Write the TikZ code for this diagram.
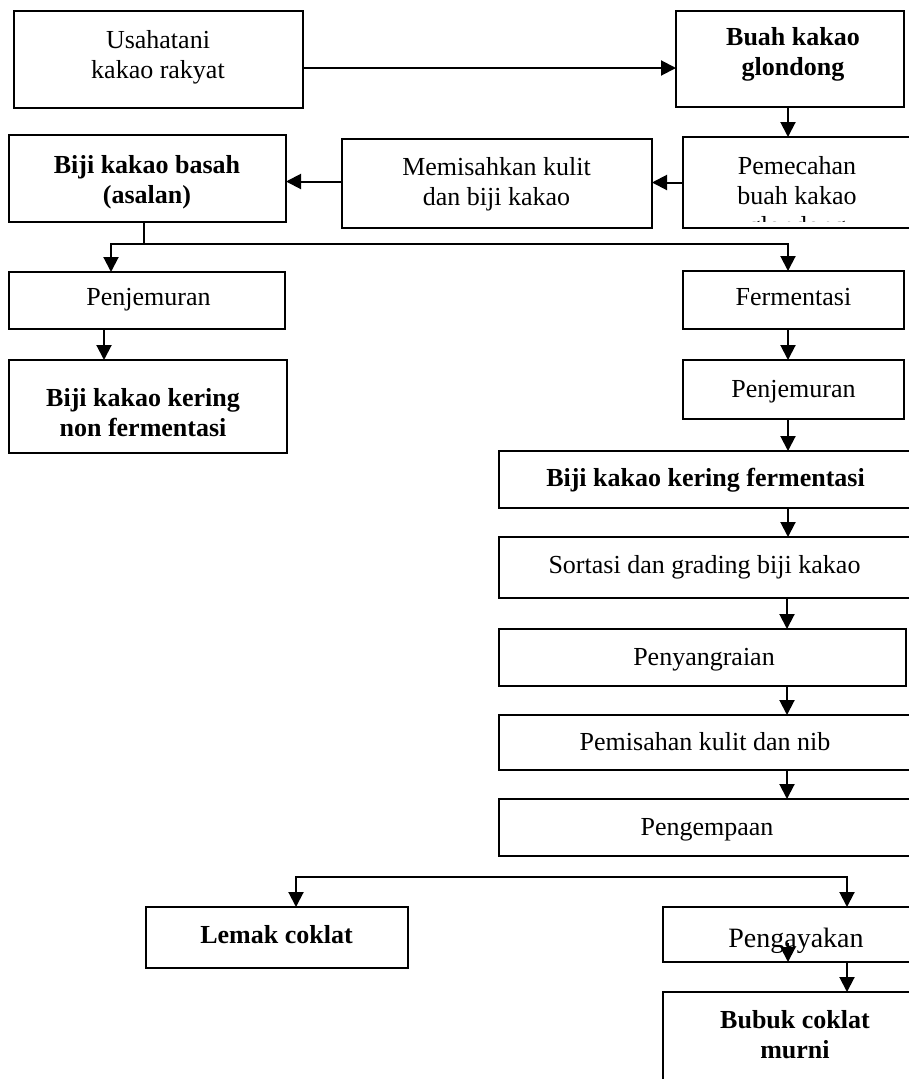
\documentclass[tikz,border=0pt]{standalone}
\usepackage{fontspec}
\setmainfont{Liberation Serif}
\usetikzlibrary{arrows.meta}
\begin{document}
\begin{tikzpicture}[x=1pt,y=-1pt,
  box/.style={draw, line width=2pt, inner sep=0pt, outer sep=0pt},
  txt/.style={font=\fontsize{26}{30}\selectfont, align=center, inner sep=0pt},
  btxt/.style={txt, font=\fontsize{26}{30}\selectfont\bfseries},
  arr/.style={line width=2pt, -{Triangle[width=15pt,length=15pt]}},
  darr/.style={line width=2pt, {Triangle[width=15pt,length=15pt]}-{Triangle[width=15pt,length=15pt]}},
  ln/.style={line width=2pt}]
\useasboundingbox (0,0) rectangle (908,1079);
% boxes
\node[box, minimum width=289pt, minimum height=97pt] (n1) at (158.5,59.5) {};
\node[box, minimum width=228pt, minimum height=96pt] (n2) at (790,59) {};
\node[box, minimum width=228pt, minimum height=91pt] (n3) at (797,182.5) {};
\node[box, minimum width=310pt, minimum height=89pt] (n4) at (497,183.5) {};
\node[box, minimum width=277pt, minimum height=87pt] (n5) at (147.5,178.5) {};
\node[box, minimum width=276pt, minimum height=57pt] (n6) at (147,300.5) {};
\node[box, minimum width=278pt, minimum height=93pt] (n7) at (148,406.5) {};
\node[box, minimum width=221pt, minimum height=58pt] (n8) at (793.5,300) {};
\node[box, minimum width=221pt, minimum height=59pt] (n9) at (793.5,389.5) {};
\node[box, minimum width=413pt, minimum height=57pt] (n10) at (705.5,479.5) {};
\node[box, minimum width=413pt, minimum height=61pt] (n11) at (705.5,567.5) {};
\node[box, minimum width=407pt, minimum height=57pt] (n12) at (702.5,657.5) {};
\node[box, minimum width=413pt, minimum height=55pt] (n13) at (705.5,742.5) {};
\node[box, minimum width=413pt, minimum height=57pt] (n14) at (705.5,827.5) {};
\node[box, minimum width=262pt, minimum height=61pt] (n15) at (277,937.5) {};
\node[box, minimum width=267pt, minimum height=55pt] (n16) at (796.5,934.5) {};
\node[box, minimum width=267pt, minimum height=108pt] (n17) at (796.5,1046) {};
% texts
\node[txt] (t1) at (158,57) {Usahatani\\kakao rakyat};
\node[btxt] (t2) at (793,54) {Buah kakao\\glondong};
\begin{scope}
\clip (683,137) rectangle (911,221);
\node[txt] (t3) at (797,198) {Pemecahan\\buah kakao\\glondong};
\end{scope}
\node[txt] (t4) at (496.5,184) {Memisahkan kulit\\dan biji kakao};
\node[btxt] (t5) at (147,182) {Biji kakao basah\\(asalan)};
\node[txt] (t6) at (148.5,300) {Penjemuran};
\node[btxt] (t7) at (143,413) {Biji kakao kering\\non fermentasi};
\node[txt] (t8) at (793.5,297) {Fermentasi};
\node[txt] (t9) at (793.5,392) {Penjemuran};
\node[btxt] (t10) at (705.5,480) {Biji kakao kering fermentasi};
\node[txt] (t11) at (704.5,567) {Sortasi dan grading biji kakao};
\node[txt] (t12) at (704,660) {Penyangraian};
\node[txt] (t13) at (705,742) {Pemisahan kulit dan nib};
\node[txt] (t14) at (707,830) {Pengempaan};
\node[btxt] (t15) at (276.5,935) {Lemak coklat};
\node[txt, font=\fontsize{28}{32}\selectfont] (t16) at (796,941) {Pengayakan};
\node[btxt] (t17) at (795,1035) {Bubuk coklat\\murni};
% connectors
\draw[arr] ([yshift=-8.5pt]n1.east) -- ([yshift=-8.5pt]n1.east -| n2.west);
\draw[arr] (n2.south -| 788,0) -- (n3.north -| 788,0);
\draw[arr] (n3.west) -- (n3.west -| n4.east);
\draw[arr] ([yshift=2pt]n4.west) -- ([yshift=2pt]n4.west -| n5.east);
\coordinate (j1) at (144,244);
\coordinate (jL) at (111,244);
\coordinate (jR) at (788,244);
\draw[ln] (n5.south -| j1) -- (j1);
\draw[darr] (jL |- n6.north) -- (jL) -- (jR) -- (jR |- n8.north);
\draw[arr] (n6.south -| 104,0) -- (n7.north -| 104,0);
\draw[arr] (n8.south -| 788,0) -- (n9.north -| 788,0);
\draw[arr] (n9.south -| 788,0) -- (n10.north -| 788,0);
\draw[arr] (n10.south -| 788,0) -- (n11.north -| 788,0);
\draw[arr] (n11.south -| 787,0) -- (n12.north -| 787,0);
\draw[arr] (n12.south -| 787,0) -- (n13.north -| 787,0);
\draw[arr] (n13.south -| 787,0) -- (n14.north -| 787,0);
\coordinate (kL) at (296,877);
\coordinate (kR) at (847,877);
\draw[darr] (kL |- n15.north) -- (kL) -- (kR) -- (kR |- n16.north);
\coordinate (s1) at (788,943);
\draw[arr] (s1) -- (s1 |- n16.south);
\draw[arr] (n16.south -| 847,0) -- (n17.north -| 847,0);
\end{tikzpicture}
\end{document}
